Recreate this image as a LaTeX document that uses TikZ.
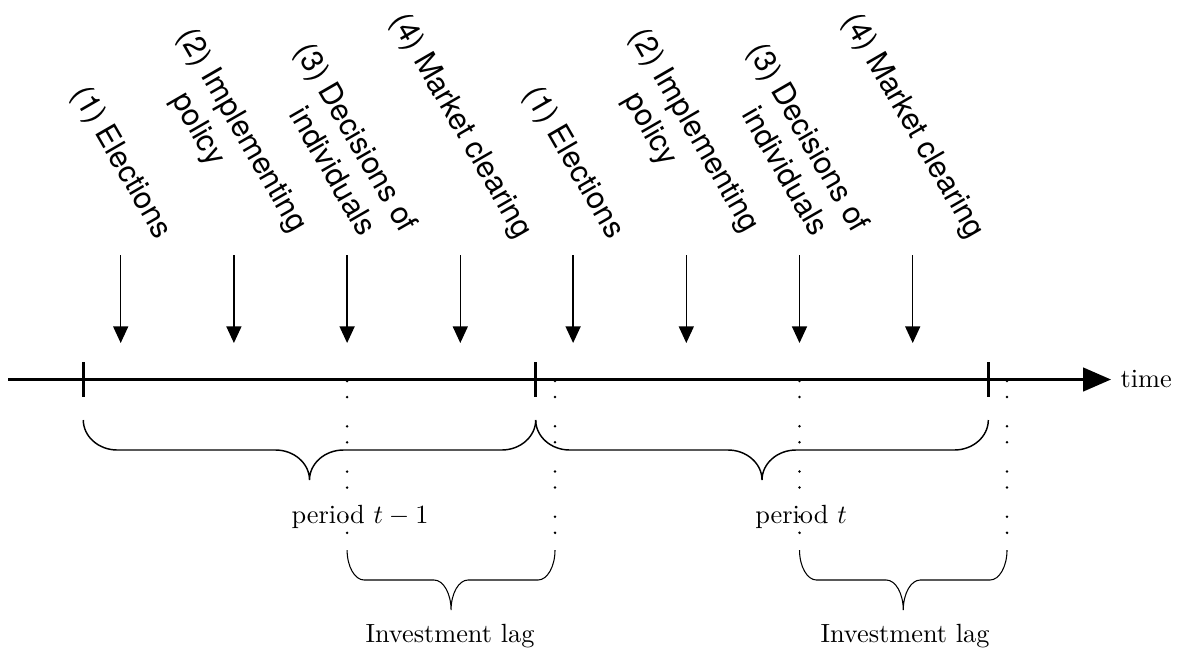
\documentclass[tikz,border=0pt]{standalone}
\usepackage{fontspec}
\usepackage{graphicx}
\newfontfamily\labfont{TeX Gyre Heros}
\usetikzlibrary{arrows.meta,calc}
\newcommand\evtext[1]{\rotatebox{-60}{\labfont\fontsize{11.6}{14.2}\selectfont #1}}
\newcommand\twoline[3]{\begin{tabular}{@{}l@{}}#1 #2\\\hphantom{#1 }\hspace{2.5pt}#3\end{tabular}}
\newcommand\mybrace[5]{%
  \coordinate (#1m) at ($(#2)!0.5!(#3)$);
  \draw[#5] (#2) .. controls +(0,16.5) and +({-0.55*#4},0) .. ($(#2)+(#4,30)$)
     -- ($(#1m)+({-#4},30)$)
     .. controls +({0.55*#4},0) and +(0,-16.5) .. ($(#1m)+(0,60)$)
     .. controls +(0,-16.5) and +({-0.55*#4},0) .. ($(#1m)+(#4,30)$)
     -- ($(#3)+({-#4},30)$)
     .. controls +({0.55*#4},0) and +(0,16.5) .. (#3);
}
\begin{document}
\begin{tikzpicture}[x=0.38pt,y=-0.38pt,
  axisline/.style={line width=1.15pt,-{Triangle[length=10.6pt,width=8.9pt]}},
  tickline/.style={line width=1.15pt},
  eventarrow/.style={line width=0.5pt,-{Triangle[length=6.3pt,width=5.7pt]}},
  dots/.style={line width=1.05pt,line cap=round,dash pattern=on 0pt off 6.1pt on 0pt off 11.1pt},
  bigbrace/.style={line width=0.55pt},
  smallbrace/.style={line width=0.4pt},
  evlabel/.style={inner sep=0pt,anchor=south},
  txt/.style={inner sep=0pt,anchor=base}]
\useasboundingbox (0,0) rectangle (1184,651);

% time axis
\coordinate (start) at (8,379.5);
\coordinate (end) at (1111,379.5);
\draw[axisline] (start) -- (end);
\node[txt,anchor=base west] (time) at (1120,387) {time};

% ticks
\foreach \n/\x in {T0/83.3,T1/535.7,T2/988.3}{
  \coordinate (\n) at (\x,379.5);
  \draw[tickline] ($(\n)+(0,-17.5)$) -- ($(\n)+(0,17.5)$);
}

% arrow tops
\foreach \n/\x in {a1/120.7,a2/233.9,a3/347.1,a4/460.3,a5/573.1,a6/686.3,a7/799.5,a8/912.7}{
  \coordinate (\n) at (\x,255);
}

% event labels
\node[evlabel] (e1) at ($(a1)+(0,-11)$) {\evtext{(1) Elections}};
\node[evlabel] (e2) at ($(a2)+(-9,4)$) {\evtext{\twoline{(2)}{Implementing}{policy}}};
\node[evlabel] (e3) at ($(a3)+(-9,4)$) {\evtext{\twoline{(3)}{Decisions of}{individuals}}};
\node[evlabel] (e4) at ($(a4)+(0,-11)$) {\evtext{(4) Market clearing}};
\node[evlabel] (f1) at ($(a5)+(0,-11)$) {\evtext{(1) Elections}};
\node[evlabel] (f2) at ($(a6)+(-9,4)$) {\evtext{\twoline{(2)}{Implementing}{policy}}};
\node[evlabel] (f3) at ($(a7)+(-9,4)$) {\evtext{\twoline{(3)}{Decisions of}{individuals}}};
\node[evlabel] (f4) at ($(a8)+(0,-11)$) {\evtext{(4) Market clearing}};

% event arrows
\foreach \n in {a1,a2,a3,a4,a5,a6,a7,a8}{
  \draw[eventarrow] (\n) -- ($(\n)+(0,88)$);
}

% dotted guide lines
\foreach \n/\x in {d1/347.1,d2/555,d3/799.5,d4/1007}{
  \coordinate (\n) at (\x,381);
  \draw[dots] (\n) -- ($(\n)+(0,153)$);
}

% period braces
\coordinate (b1l) at (83.3,420);
\coordinate (b1r) at (535.7,420);
\coordinate (b2l) at (535.7,420);
\coordinate (b2r) at (988.3,420);
\mybrace{bA}{b1l}{b1r}{34}{bigbrace}
\mybrace{bB}{b2l}{b2r}{34}{bigbrace}
\node[txt] (p1) at (360,523) {period $t-1$};
\node[txt] (p2) at (801,523) {period $t$};

% investment lag braces
\coordinate (s1l) at (347.1,550);
\coordinate (s1r) at (555,550);
\coordinate (s2l) at (799.5,550);
\coordinate (s2r) at (1007,550);
\mybrace{sA}{s1l}{s1r}{17}{smallbrace}
\mybrace{sB}{s2l}{s2r}{17}{smallbrace}
\node[txt] (i1) at (450,642) {Investment lag};
\node[txt] (i2) at (905,642) {Investment lag};
\end{tikzpicture}
\end{document}
